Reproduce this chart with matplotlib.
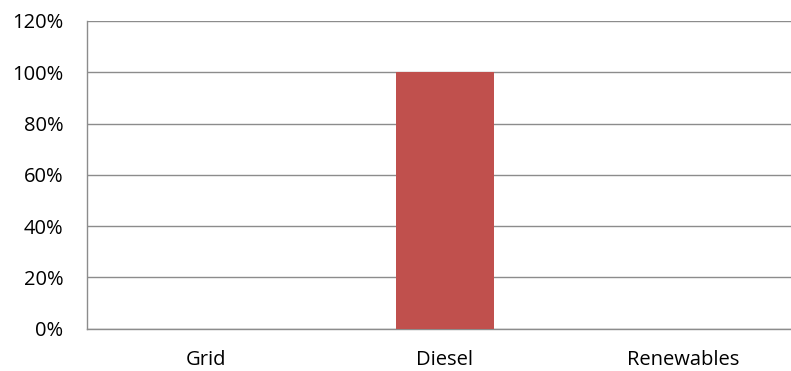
import matplotlib
matplotlib.use("Agg")
import matplotlib.pyplot as plt
from matplotlib.ticker import FuncFormatter

categories = ["Grid", "Diesel", "Renewables"]
values = [0.0, 1.0, 0.0]
yticks = [0, 0.2, 0.4, 0.6, 0.8, 1.0, 1.2]

plt.rcParams['font.family'] = ['Open Sans', 'DejaVu Sans']

fig = plt.figure(figsize=(7.91, 3.71), dpi=100)
ax = fig.add_axes([87/791, 42.5/371, 716/791, (328.5-21)/371])
x = range(len(categories))
ax.bar(x, values, width=0.41, color="#C0504D", zorder=3)
ax.set_xlim(-0.5, 2.5)
ax.set_ylim(0, 1.2)
ax.set_yticks(yticks)
ax.yaxis.set_major_formatter(FuncFormatter(lambda v, p: f"{v*100:.0f}%"))
ax.set_xticks(list(x))
ax.set_xticklabels(categories)
ax.tick_params(axis='both', length=0, labelsize=14.5, colors="black")
ax.tick_params(axis='y', pad=17)
ax.tick_params(axis='x', pad=15.5)
ax.grid(axis='y', color="#8c8c8c", linewidth=1.0, zorder=0)
for s in ["top", "right"]:
    ax.spines[s].set_visible(False)
for s in ["left", "bottom"]:
    ax.spines[s].set_color("#8c8c8c")
    ax.spines[s].set_linewidth(1.0)
fig.savefig("out.png", dpi=100)
